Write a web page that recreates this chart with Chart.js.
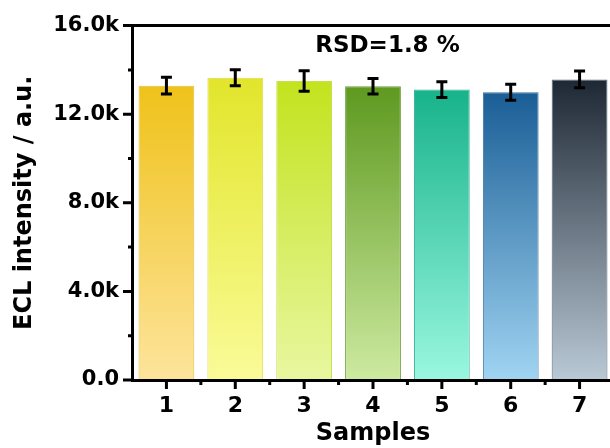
<!DOCTYPE html>
<html>
<head>
<meta charset="utf-8">
<script src="https://cdn.jsdelivr.net/npm/chart.js@4.4.1/dist/chart.umd.min.js"></script>
<style>
  html, body { margin: 0; padding: 0; background: #fff; overflow: hidden; }
  #wrap { width: 616px; height: 448px; position: relative; }
</style>
</head>
<body>
<div id="wrap"><canvas id="eclChart"></canvas></div>
<script>
const samples = ["1", "2", "3", "4", "5", "6", "7"];
const intensity = [13290, 13650, 13500, 13260, 13110, 12990, 13570];
const errors = [380, 360, 460, 350, 360, 360, 380];
const yMajorTicks = [0, 4000, 8000, 12000, 16000];
const yMinorTicks = [2000, 6000, 10000, 14000];
const rsdLabel = "RSD=1.8 %";

// bar gradient colours, top -> bottom, plus thin edge colour
const topColors = ["#efc21a", "#e2e52a", "#c3e31e", "#5e9920", "#17b38a", "#1a5e96", "#1e2834"];
const bottomColors = ["#fde49c", "#fafb98", "#e8f7a0", "#cdeaa0", "#9af7e0", "#a0d4f2", "#bac9d6"];
const edgeColors = ["#e3bd3a", "#dcdc50", "#c6e052", "#6a9a3a", "#3fb596", "#3a6e9c", "#5a6878"];

const FONT = "'DejaVu Sans', sans-serif";

function barGradient(context) {
  const chart = context.chart;
  const i = context.dataIndex;
  if (!chart.chartArea || !chart.scales.y) return topColors[i];
  const y = chart.scales.y;
  const top = y.getPixelForValue(intensity[i]);
  const bottom = y.getPixelForValue(0);
  const g = chart.ctx.createLinearGradient(0, top, 0, bottom);
  g.addColorStop(0, topColors[i]);
  g.addColorStop(1, bottomColors[i]);
  return g;
}

// error bars, tick marks, top frame and RSD note
const decorations = {
  id: "decorations",
  afterDatasetsDraw(chart) {
    const { ctx, chartArea, scales: { x, y } } = chart;
    const meta = chart.getDatasetMeta(0);
    ctx.save();
    ctx.strokeStyle = "#000";
    ctx.lineCap = "butt";

    ctx.lineWidth = 3;
    meta.data.forEach((bar, i) => {
      const hi = y.getPixelForValue(intensity[i] + errors[i]);
      const lo = y.getPixelForValue(intensity[i] - errors[i]);
      ctx.beginPath();
      ctx.moveTo(bar.x, hi); ctx.lineTo(bar.x, lo);
      ctx.moveTo(bar.x - 5.5, hi); ctx.lineTo(bar.x + 5.5, hi);
      ctx.moveTo(bar.x - 5.5, lo); ctx.lineTo(bar.x + 5.5, lo);
      ctx.stroke();
    });

    ctx.beginPath();
    yMajorTicks.forEach(v => {
      const py = y.getPixelForValue(v);
      ctx.moveTo(chartArea.left - 9, py); ctx.lineTo(chartArea.left, py);
    });
    yMinorTicks.forEach(v => {
      const py = y.getPixelForValue(v);
      ctx.moveTo(chartArea.left - 4, py); ctx.lineTo(chartArea.left, py);
    });
    samples.forEach((s, i) => {
      const px = x.getPixelForValue(i);
      ctx.moveTo(px, chartArea.bottom); ctx.lineTo(px, chartArea.bottom + 9);
      if (i < samples.length - 1) {
        const mid = (px + x.getPixelForValue(i + 1)) / 2;
        ctx.moveTo(mid, chartArea.bottom); ctx.lineTo(mid, chartArea.bottom + 5);
      }
    });
    ctx.moveTo(chartArea.left - 1.5, chartArea.top);
    ctx.lineTo(chart.width, chartArea.top);
    ctx.stroke();

    ctx.fillStyle = "#000";
    ctx.font = "bold 23px " + FONT;
    ctx.textAlign = "center";
    ctx.textBaseline = "middle";
    ctx.fillText(rsdLabel, chartArea.left + (chartArea.right - chartArea.left) * 0.53, chartArea.top + 20);
    ctx.restore();
  }
};

Chart.defaults.font.family = FONT;
Chart.defaults.font.weight = "bold";
Chart.defaults.color = "#000";

new Chart(document.getElementById("eclChart"), {
  type: "bar",
  data: {
    labels: samples,
    datasets: [{
      data: intensity,
      backgroundColor: barGradient,
      borderColor: edgeColors,
      borderWidth: 1,
      barPercentage: 0.81,
      categoryPercentage: 1
    }]
  },
  options: {
    responsive: true,
    maintainAspectRatio: false,
    animation: false,
    layout: { padding: { top: 24, right: 2, bottom: 0, left: 0 } },
    plugins: { legend: { display: false }, tooltip: { enabled: false } },
    scales: {
      x: {
        grid: { display: false, drawTicks: false },
        border: { display: true, color: "#000", width: 3, z: 1 },
        ticks: { font: { size: 22, weight: "bold" }, padding: 13 },
        title: { display: true, text: "Samples", font: { size: 24, weight: "bold" }, padding: { top: 0, bottom: 0 } },
        afterFit(scale) { scale.height = 68; }
      },
      y: {
        min: 0,
        max: 16000,
        grid: { display: false, drawTicks: false },
        border: { display: true, color: "#000", width: 3, z: 1 },
        ticks: {
          stepSize: 4000,
          font: { size: 21, weight: "bold" },
          padding: 13,
          callback: v => v === 0 ? "0.0" : (v / 1000).toFixed(1) + "k"
        },
        title: { display: true, text: "ECL intensity / a.u.", font: { size: 24, weight: "bold" }, padding: { top: 10, bottom: 0 } },
        afterFit(scale) { scale.width = 132; }
      }
    }
  },
  plugins: [decorations]
});
</script>
</body>
</html>
